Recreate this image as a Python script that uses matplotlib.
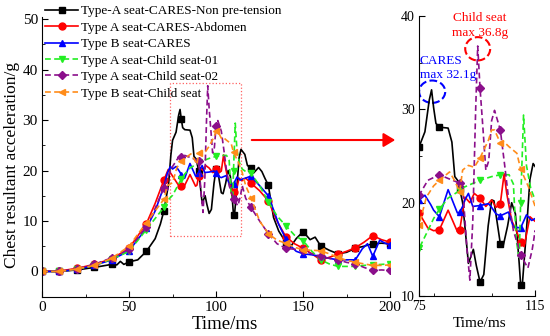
import numpy as np
import matplotlib
matplotlib.use('Agg')
import matplotlib.pyplot as plt
from matplotlib.patches import Rectangle, Ellipse, FancyArrowPatch
from matplotlib.ticker import MultipleLocator

plt.rcParams['font.family'] = ['Liberation Serif', 'DejaVu Serif']

# Type-A seat-CARES-Non pre-tension
black_t = [0, 10, 20, 30, 40, 43, 45, 47, 50, 55, 60, 65, 68, 70, 72.7, 74, 75, 77, 78.5, 79.3,
           80, 80.8, 82, 85, 86.3, 87.3, 88.5, 89, 90, 92, 93.7, 94.7, 96, 97.3, 98.8, 100, 100.8,
           103, 104, 105.5, 106.9, 108.2, 109.5, 110, 110.6, 112, 113.2, 114.3, 116.5, 118, 120,
           121.5, 124.4, 126.3, 128, 130, 133, 136, 140, 142.6, 146, 150, 154, 156.9, 160, 165,
           170, 175, 180, 185, 190, 195, 200]
black_v = [0, 0, 0.3, 0.8, 1.4, 1.3, 2.0, 1.4, 1.9, 2.3, 4.0, 6.5, 9.4, 12.0, 17.3, 23.0, 26.0, 27.6,
           31.0, 32.1, 30.2, 28.5, 28.1, 28.0, 26.5, 22.8, 22.3, 21.5, 20.0, 13.5, 15.0, 13.3, 11.5,
           12.3, 17.5, 20.3, 20.2, 15.6, 15.4, 17.5, 20.0, 18.8, 13.5, 11.2, 11.3, 17.0, 22.5, 24.2,
           23.2, 21.0, 20.5, 19.5, 20.6, 19.8, 18.5, 17.1, 10.7, 8.0, 5.8, 4.8, 6.5, 7.9, 6.3, 6.8,
           5.1, 4.2, 3.5, 3.8, 4.6, 5.0, 5.5, 5.6, 5.5]

# Type A seat-CARES-Abdomen
red_t = [0, 10, 20, 30, 40, 50, 60, 65, 70, 72.5, 75, 78, 80, 82, 85, 88.2, 89, 90, 90.8, 92.5, 94,
         96, 98, 100, 101.5, 103, 104.3, 105.2, 106.9, 108.5, 110, 111.2, 113.2, 115, 117, 120, 125,
         130, 135, 140, 145, 150, 155, 160, 165, 170, 175, 180, 185, 190, 195, 200]
red_v = [0, 0.1, 0.6, 1.4, 2.5, 4.6, 9.5, 13.5, 18.1, 20.2, 18.9, 17.3, 17.0, 17.1, 19.2, 16.9, 17.1,
         19.0, 20.6, 20.0, 21.0, 20.5, 19.6, 20.3, 19.5, 19.9, 23.1, 21.0, 18.1, 17.0, 15.8, 15.3,
         18.5, 18.0, 18.5, 17.5, 16.0, 14.0, 10.0, 6.9, 5.5, 4.6, 3.5, 2.3, 2.8, 3.4, 4.0, 4.7, 5.8,
         7.1, 6.3, 5.8]

# Type B seat-CARES
blue_t = [0, 10, 20, 30, 40, 50, 60, 65, 70, 72, 73.7, 75, 77, 79, 80, 82, 85, 88.2, 89, 90, 90.8,
          92, 93.5, 96, 98.9, 100, 101.5, 103, 105.8, 107.5, 110, 112, 113.8, 115, 117, 120, 125,
          130, 133, 136, 140, 143, 146, 150, 155, 160, 165, 170, 175, 180, 184, 187, 190, 194, 197, 200]
blue_v = [0, 0, 0.4, 1.2, 2.3, 4.1, 8.6, 12.0, 16.8, 19.5, 20.8, 20.3, 20.8, 19.8, 19.2, 18.5, 21.4,
          18.9, 19.0, 19.6, 20.3, 21.0, 19.6, 19.7, 19.9, 19.5, 18.8, 18.6, 19.0, 17.4, 17.3, 18.7,
          18.1, 18.3, 18.5, 18.9, 17.0, 15.0, 12.2, 9.3, 6.5, 5.0, 4.0, 3.5, 3.3, 3.0, 2.6, 2.3, 2.3,
          2.3, 4.5, 5.5, 3.0, 6.2, 5.6, 5.3]

# Type A seat-Child seat-01
green_t = [0, 10, 20, 30, 40, 50, 60, 65, 70, 72, 75, 78, 80, 82, 85, 89, 90, 93, 96, 100, 103, 106,
           107.5, 108.5, 109.5, 110, 111, 112, 113.5, 115, 117, 120, 125, 130, 135, 140, 145, 150,
           155, 160, 165, 170, 175, 180, 185, 190, 195, 200]
green_v = [0, 0, 0.4, 1.2, 2.4, 4.0, 8.3, 10.5, 12.7, 14.0, 15.1, 17.0, 18.3, 19.3, 20.5, 21.3, 21.6,
           22.0, 22.4, 22.8, 23.0, 23.0, 22.0, 16.0, 13.9, 20.0, 29.4, 24.0, 21.5, 20.3, 19.8, 19.5,
           17.0, 13.8, 11.0, 9.1, 7.2, 6.1, 4.0, 2.3, 1.5, 1.0, 1.0, 1.0, 1.2, 1.3, 1.4, 1.5]

# Type A seat-Child seat-02
purple_t = [0, 10, 20, 30, 40, 50, 60, 65, 70, 72, 75, 78, 80, 82, 85, 89, 90, 91.5, 92.5, 93.5,
            94.5, 95.2, 96, 97, 98, 99, 100, 101, 103, 104.5, 106, 107.5, 109, 110, 112.5, 114, 115,
            117, 120, 125, 130, 135, 140, 145, 150, 155, 160, 165, 170, 175, 180, 185, 190, 195, 200]
purple_v = [0, 0, 0.5, 1.4, 2.7, 4.4, 8.9, 12.5, 16.6, 18.5, 20.8, 22.4, 22.7, 23.0, 22.6, 22.1, 21.8,
            15.0, 11.7, 18.0, 30.0, 36.8, 32.3, 28.0, 23.5, 24.5, 28.8, 29.9, 27.8, 24.0, 20.0, 17.0,
            15.5, 14.4, 13.0, 15.0, 17.0, 14.5, 12.7, 10.0, 7.5, 5.5, 4.6, 4.4, 4.2, 3.5, 3.0, 2.6,
            2.3, 1.8, 1.5, 0.8, 0.2, 0.3, 0.2]

# Type B seat-Child seat
orange_t = [0, 10, 20, 30, 40, 50, 60, 65, 70, 72, 75, 77.5, 80, 82, 85.5, 87, 89, 90, 92, 94, 96,
            98.9, 100, 101, 103, 104, 106, 108.7, 110, 112.7, 115, 117, 120, 125, 130, 135, 140, 145,
            150, 155, 160, 165, 170, 175, 180, 185, 190, 195, 200]
orange_v = [0, 0, 0.5, 1.2, 2.6, 5.0, 9.7, 12.0, 14.3, 17.0, 17.6, 20.6, 21.8, 22.4, 23.3, 22.5, 21.2,
            23.5, 24.0, 23.8, 24.8, 26.7, 27.8, 27.8, 26.4, 26.6, 26.0, 25.3, 23.6, 21.7, 19.6, 17.0,
            14.6, 10.0, 7.5, 6.2, 5.6, 4.8, 4.3, 4.2, 4.1, 3.5, 2.8, 2.2, 1.8, 1.5, 1.2, 1.2, 1.3]

labels = ['Type-A seat-CARES-Non pre-tension', 'Type A seat-CARES-Abdomen', 'Type B seat-CARES',
          'Type A seat-Child seat-01', 'Type A seat-Child seat-02', 'Type B seat-Child seat']
inset_marks = [75, 82, 89, 96, 103, 110]

dash = (0, (3.5, 2))
series = [
    (black_t, black_v, 'black', 's', '-'),
    (red_t, red_v, '#ff0000', 'o', '-'),
    (blue_t, blue_v, '#0000ff', '^', '-'),
    (green_t, green_v, '#22ee22', 'v', dash),
    (purple_t, purple_v, '#8b0f8b', 'D', dash),
    (orange_t, orange_v, '#ff8c1a', '<', dash),
]

fig = plt.figure(figsize=(5.5, 3.36), dpi=100)
ax = fig.add_axes([0.0764, 0.117, 0.633, 0.832])
ax_in = fig.add_axes([0.762, 0.119, 0.211, 0.833])

for (t, v, c, m, ls), lab in zip(series, labels):
    t = np.array(t, dtype=float)
    v = np.array(v, dtype=float)
    main_mask = list(np.isclose(t % 10, 0))
    in_mask = list(np.isin(t, inset_marks))
    ms = 4.5 if m == 'D' else 5
    ax.plot(t, v, color=c, ls=ls, lw=1.2, marker=m, ms=ms, markevery=main_mask, label=lab)
    ax_in.plot(t, v, color=c, ls=ls, lw=1.2, marker=m, ms=ms, markevery=in_mask)

# main axes
ax.set_xlim(0, 200)
ax.set_ylim(-5, 50.4)
ax.set_xticks([0, 50, 100, 150, 200])
ax.set_yticks([0, 10, 20, 30, 40, 50])
ax.xaxis.set_minor_locator(MultipleLocator(25))
ax.yaxis.set_minor_locator(MultipleLocator(5))
ax.tick_params(which='both', direction='in', labelsize=11)
ax.tick_params(axis='x', pad=3)
ax.tick_params(axis='y', pad=3)
ax.tick_params(which='major', length=4)
ax.tick_params(which='minor', length=2.5)
ax.spines['top'].set_visible(False)
ax.spines['right'].set_visible(False)
ax.set_xlabel('Time/ms', fontsize=13.5)
ax.set_ylabel('Chest resultant acceleration/g', fontsize=12.5)
ax.xaxis.set_label_coords(0.526, -0.068)
ax.yaxis.set_label_coords(-0.064, 0.47)

ax.add_patch(Rectangle((73.3, 7.1), 41.1, 30.2, fill=False, ec='#ff6060', ls=':', lw=0.9))

ax.legend(loc='upper left', bbox_to_anchor=(0.082, 0.985), bbox_transform=fig.transFigure,
          frameon=False, fontsize=9.5, handlelength=2.5, handletextpad=0.2, labelspacing=0.32,
          borderpad=0, borderaxespad=0)

# inset axes
ax_in.set_xlim(75, 115)
ax_in.set_ylim(10, 40)
ax_in.set_xticks([75, 115])
ax_in.set_yticks([10, 20, 30, 40])
ax_in.xaxis.set_minor_locator(MultipleLocator(20))
ax_in.yaxis.set_minor_locator(MultipleLocator(5))
ax_in.tick_params(which='both', direction='in', labelsize=10, pad=3)
ax_in.tick_params(which='major', length=4)
ax_in.tick_params(which='minor', length=2.5)
ax_in.spines['top'].set_visible(False)
ax_in.spines['right'].set_visible(False)
ax_in.set_xlabel('Time/ms', fontsize=11)
ax_in.xaxis.set_label_coords(0.52, -0.075)

ax_in.add_patch(Ellipse((79.5, 31.9), 9, 2.4, fill=False, ec='#0000ff', ls='--', lw=1.5))
ax_in.add_patch(Ellipse((95.2, 36.5), 8.6, 2.5, fill=False, ec='#ff0000', ls='--', lw=1.5))
ax_in.text(95.9, 39.0, 'Child seat\nmax 36.8g', color='#ff0000', ha='center', va='center',
           fontsize=9.5, linespacing=1.25)
ax_in.text(75.2, 34.4, 'CARES\nmax 32.1g', color='#0000ff', ha='left', va='center',
           fontsize=9.5, linespacing=1.25)

fig.add_artist(FancyArrowPatch((0.4527, 0.5833), (0.7236, 0.5833), transform=fig.transFigure,
                               arrowstyle='-|>,head_length=0.5,head_width=0.3',
                               mutation_scale=14, color='#ff0000', lw=1.5))

fig.savefig('out.png', dpi=100)
